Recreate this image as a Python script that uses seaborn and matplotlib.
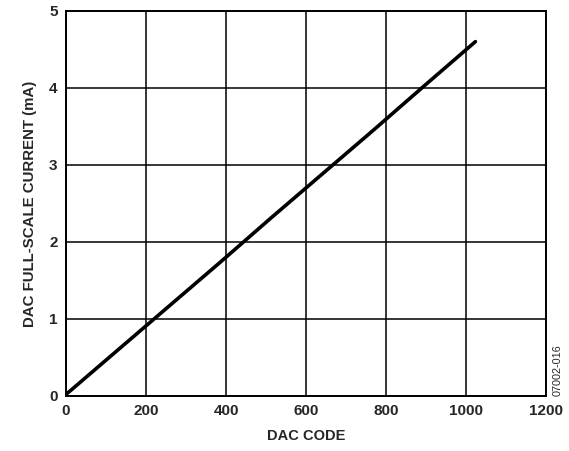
import seaborn as sns
import matplotlib.pyplot as plt
import pandas as pd

# Datos
dac_code = [0, 128, 256, 384, 512, 640, 768, 896, 1023]
current_ma = [0.02, 0.59, 1.16, 1.73, 2.31, 2.88, 3.45, 4.03, 4.60]

df = pd.DataFrame({"DAC CODE": dac_code, "Corriente": current_ma})

sns.set_style("white")
plt.rcParams["font.family"] = ["Liberation Sans", "DejaVu Sans"]

fig = plt.figure(figsize=(5.69, 4.51), dpi=100)
ax = fig.add_axes([0.116, 0.122, 0.844, 0.854])

sns.lineplot(data=df, x="DAC CODE", y="Corriente", color="black", linewidth=2.6, ax=ax)

ax.set_xlim(0, 1200)
ax.set_ylim(0, 5)
ax.set_xticks(range(0, 1201, 200))
ax.set_yticks(range(0, 6))
ax.grid(True, color="black", linewidth=1.1)
ax.set_axisbelow(True)
for s in ax.spines.values():
    s.set_color("black")
    s.set_linewidth(1.4)

ax.tick_params(axis="both", length=0, labelsize=11, pad=6)
for lbl in ax.get_xticklabels() + ax.get_yticklabels():
    lbl.set_fontweight("bold")

ax.set_xlabel("DAC CODE", fontsize=10.5, fontweight="bold", labelpad=8)
ax.set_ylabel("DAC FULL-SCALE CURRENT (mA)", fontsize=10.8, fontweight="bold", labelpad=9)

fig.text(0.98, 0.122, "07002-016", rotation=90, fontsize=7.8, ha="center", va="bottom")

fig.savefig("out.png", dpi=100)
